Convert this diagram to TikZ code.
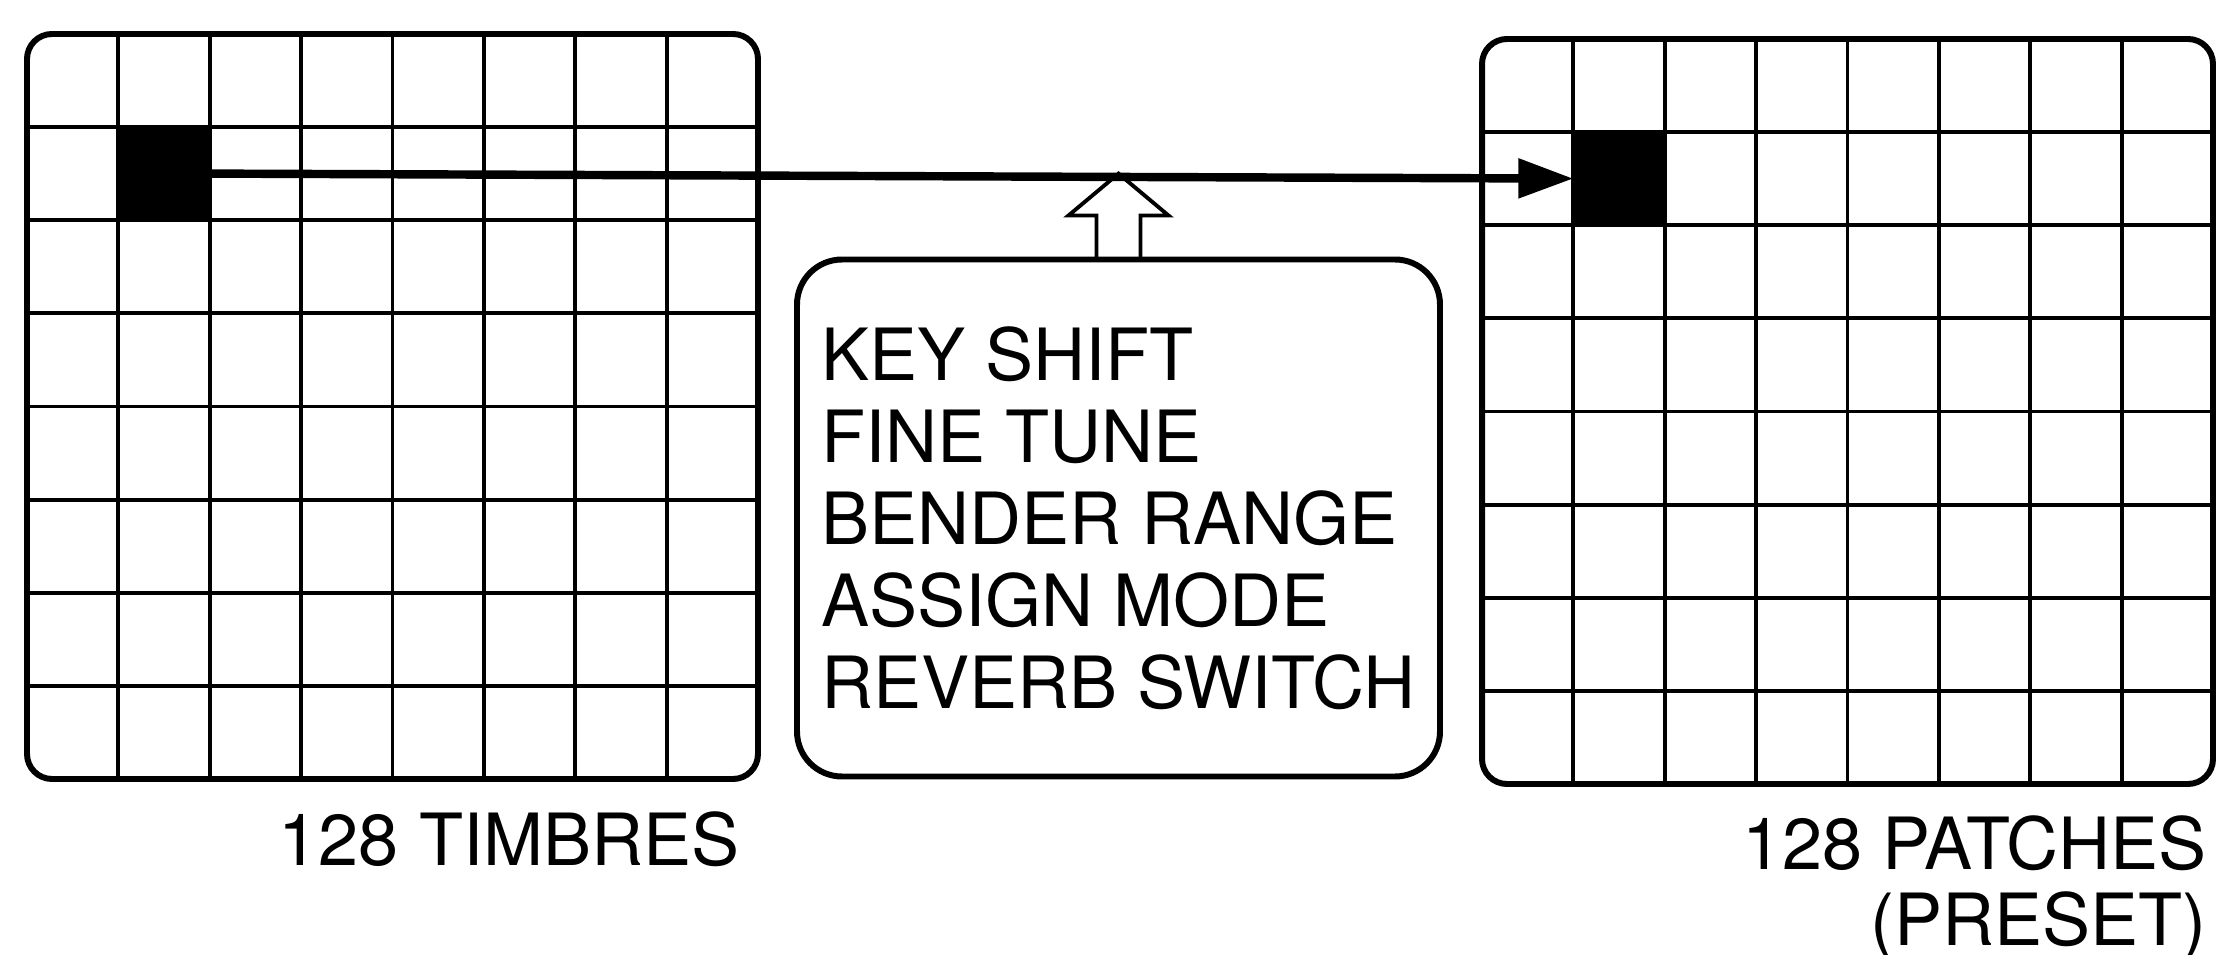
\documentclass[tikz,border=0pt]{standalone}
\usepackage{fontspec}
\setmainfont{TeX Gyre Heros}
\usetikzlibrary{arrows.meta, positioning, calc}

\begin{document}
\begin{tikzpicture}[
    x=0.1mm, y=-0.1mm,
    panel/.style={draw, line width=1.7pt, rounded corners=0.25cm, minimum width=7.31cm, minimum height=7.45cm, inner sep=0pt, outer sep=0pt, anchor=north west},
    gridline/.style={line width=1.1pt},
    cell/.style={fill=black, minimum width=0.914cm, minimum height=0.93cm, inner sep=0pt, outer sep=0pt, anchor=north west},
    box/.style={draw, line width=1.7pt, rounded corners=0.45cm, minimum width=6.43cm, minimum height=5.17cm, align=left, outer sep=0pt},
    arrow/.style={-{Triangle[length=0.55cm, width=0.38cm]}, line width=2.4pt},
    hollow/.style={line width=1.1pt, line join=miter},
    txt/.style={font=\fontsize{20.5pt}{23.3pt}\selectfont, inner sep=0pt}
]
    \useasboundingbox (0,0) rectangle (2217,955);

    % Timbres
    \node[panel] (timbres) at (27,34) {};

    % Patches
    \node[panel] (patches) at (1482,39) {};

    % Grid lines
    \foreach \g in {timbres, patches} {
        \foreach \i in {1,...,7} {
            \draw[gridline] ($(\g.north west)!\i/8!(\g.north east)$) -- ($(\g.south west)!\i/8!(\g.south east)$);
            \draw[gridline] ($(\g.north west)!\i/8!(\g.south west)$) -- ($(\g.north east)!\i/8!(\g.south east)$);
        }
    }

    % Selected cells
    \node[cell] (src) at ($(timbres.north west)+(91.4,93.1)$) {};
    \node[cell] (dst) at ($(patches.north west)+(91.4,93.1)$) {};

    % Parameters
    \node[box, txt] (params) at (1118.5,518) {KEY SHIFT\\FINE TUNE\\BENDER RANGE\\ASSIGN MODE\\REVERB SWITCH};

    % Arrows
    \draw[arrow] (src.east) -- (dst.west);
    \coordinate (hit) at (params.north |- src.east);
    \draw[hollow] ($(params.north)+(-22,0)$) -- ++(0,-44) -- ++(-28,0) -- (hit)
        -- ($(params.north)+(50,-44)$) -- ++(-28,0) -- ++(0,44);

    % Labels
    \node[txt, anchor=base east] (tlabel) at (740,865) {128 TIMBRES};
    \node[txt, font=\fontsize{20.5pt}{21.6pt}\selectfont, anchor=north east, align=right] (plabel) at (2207,815) {128 PATCHES\\(PRESET)};
\end{tikzpicture}
\end{document}
